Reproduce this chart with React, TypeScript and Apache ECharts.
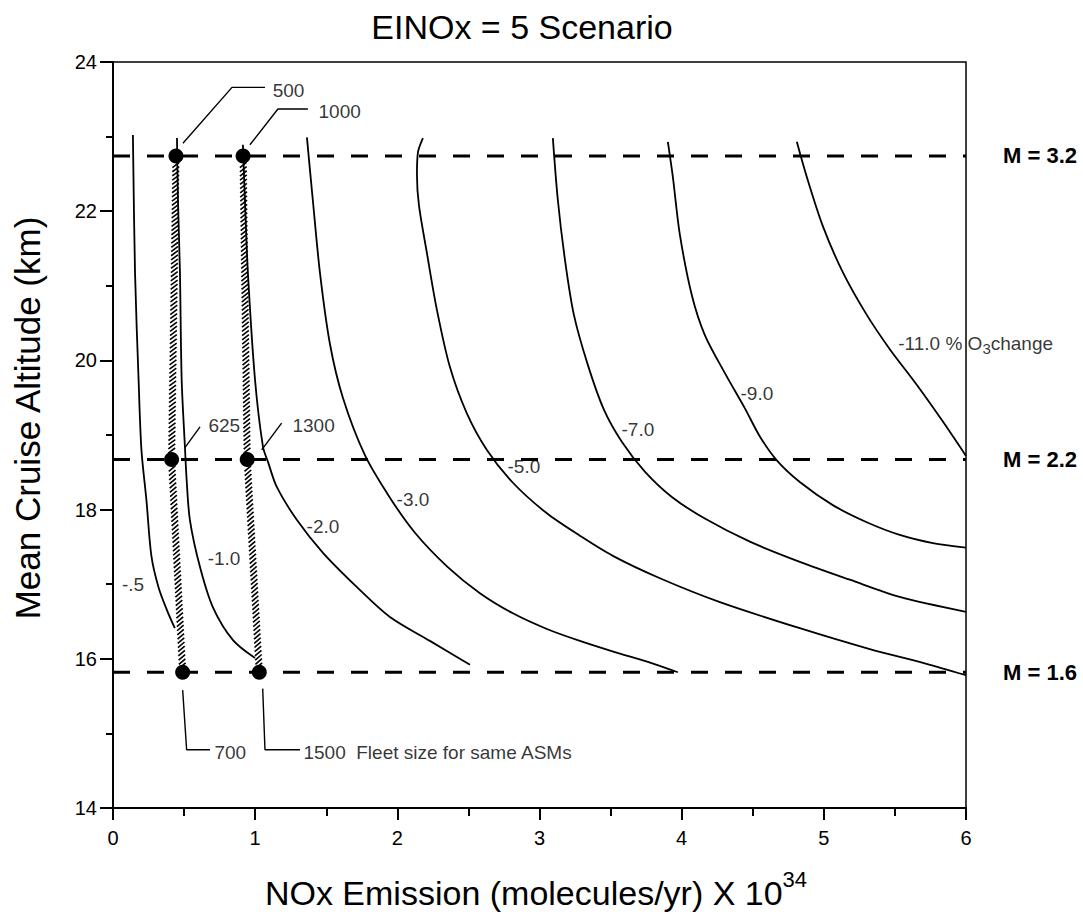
import React, { useEffect, useRef } from "react";
import * as echarts from "echarts";

const FONT = "'Liberation Sans', Arial, Helvetica, sans-serif";

// Axis ranges
const xRange = [0, 6];
const yRange = [14, 24];

// Ozone-change contours (% O3 change), [NOx emission, altitude]
const contourM05 = [[0.14, 23.02], [0.155, 21.17], [0.18, 19.74], [0.2, 18.8], [0.235, 18.13], [0.27, 17.38], [0.32, 16.96], [0.38, 16.65], [0.435, 16.41]];
const contourM10 = [[0.45, 22.98], [0.457, 22.15], [0.471, 21.17], [0.483, 19.74], [0.506, 18.84], [0.518, 18.4], [0.541, 17.86], [0.612, 17.23], [0.703, 16.69], [0.844, 16.25], [0.999, 16.01]];
const contourM20 = [[0.914, 22.89], [0.928, 22.15], [0.949, 21.17], [0.999, 19.74], [1.055, 18.84], [1.09, 18.64], [1.153, 18.3], [1.294, 17.86], [1.477, 17.42], [1.716, 16.96], [1.948, 16.56], [2.229, 16.24], [2.511, 15.92]];
const contourM30 = [[1.364, 22.99], [1.406, 22.14], [1.456, 21.17], [1.526, 20.22], [1.617, 19.5], [1.772, 18.73], [1.948, 18.16], [2.124, 17.69], [2.349, 17.24], [2.581, 16.88], [2.813, 16.61], [3.052, 16.4], [3.284, 16.24], [3.53, 16.09], [3.762, 15.96], [3.973, 15.82]];
const contourM50 = [[2.18, 22.98], [2.145, 22.79], [2.138, 22.49], [2.152, 22.08], [2.208, 21.44], [2.278, 20.68], [2.37, 19.91], [2.489, 19.29], [2.63, 18.8], [2.813, 18.36], [3.052, 17.95], [3.284, 17.65], [3.516, 17.38], [3.847, 17.08], [4.269, 16.76], [4.831, 16.41], [5.323, 16.13], [5.71, 15.94], [6.0, 15.78]];
const contourM70 = [[3.094, 22.98], [3.129, 22.15], [3.179, 21.35], [3.242, 20.61], [3.34, 19.94], [3.453, 19.34], [3.579, 18.91], [3.741, 18.51], [3.931, 18.17], [4.163, 17.88], [4.48, 17.57], [4.831, 17.3], [5.183, 17.06], [5.534, 16.83], [6.0, 16.63]];
const contourM90 = [[3.903, 22.93], [3.938, 22.46], [3.987, 21.69], [4.072, 20.87], [4.163, 20.34], [4.304, 19.83], [4.444, 19.36], [4.55, 18.98], [4.669, 18.66], [4.831, 18.37], [5.063, 18.06], [5.302, 17.83], [5.534, 17.66], [5.767, 17.55], [6.0, 17.49]];
const contourM110 = [[4.81, 22.93], [4.88, 22.46], [4.993, 21.8], [5.134, 21.18], [5.302, 20.61], [5.464, 20.15], [5.647, 19.69], [5.83, 19.2], [6.0, 18.72]];
const contours = [contourM05, contourM10, contourM20, contourM30, contourM50, contourM70, contourM90, contourM110];

// Contour labels and their positions
const contourLabelText = ["-.5", "-1.0", "-2.0", "-3.0", "-5.0", "-7.0", "-9.0"];
const contourLabelPos = [[0.141, 16.99], [0.781, 17.35], [1.477, 17.77], [2.11, 18.13], [2.89, 18.58], [3.692, 19.08], [4.529, 19.56]];
const o3LabelPos = [5.52, 20.23];

// Mach-number cruise altitudes
const machAltitudes = [22.74, 18.67, 15.82];
const machLabels = ["M = 3.2", "M = 2.2", "M = 1.6"];

// Fleet sizes for the same ASMs at each Mach altitude
const fleetSmallNOx = [0.443, 0.412, 0.49]; // 500, 625, 700
const fleetLargeNOx = [0.915, 0.944, 1.029]; // 1000, 1300, 1500

// Leader lines for the fleet-size labels
const leaders = [
  [[0.492, 22.91], [0.837, 23.66], [1.069, 23.66]],
  [[0.963, 22.89], [1.16, 23.37], [1.371, 23.37]],
  [[0.506, 18.83], [0.612, 19.11]],
  [[1.046, 18.8], [1.186, 19.16]],
  [[0.49, 15.58], [0.518, 14.78], [0.682, 14.78]],
  [[1.053, 15.6], [1.069, 14.78], [1.315, 14.78]],
];
const fleetLabelPos = [[1.12, 23.62], [1.442, 23.33], [0.668, 19.13], [1.259, 19.13], [0.71, 14.75], [1.336, 14.75]];
const fleetLabelText = ["500", "1000", "625", "1300", "700", "1500  Fleet size for same ASMs"];

export default function App() {
  const ref = useRef<HTMLDivElement>(null);
  useEffect(() => {
    if (!ref.current) return;
    const chart = echarts.init(ref.current, null, { renderer: "svg" });

    const bandSegments: number[][] = [];
    [fleetSmallNOx, fleetLargeNOx].forEach((nox) => {
      for (let i = 0; i < nox.length - 1; i++) {
        bandSegments.push([nox[i], machAltitudes[i], nox[i + 1], machAltitudes[i + 1]]);
      }
    });

    const dots: number[][] = [];
    [fleetSmallNOx, fleetLargeNOx].forEach((nox) => nox.forEach((x, i) => dots.push([x, machAltitudes[i]])));

    const series: any[] = [];

    machAltitudes.forEach((y, i) => {
      series.push({
        type: "line",
        data: [[xRange[0], y], [xRange[1], y]],
        showSymbol: false,
        symbol: "none",
        lineStyle: { color: "#000", width: 3, type: [17, 17], dashOffset: 0 },
        endLabel: {
          show: true,
          formatter: machLabels[i],
          distance: 37,
          color: "#000",
          fontSize: 22,
          fontWeight: "bold",
          fontFamily: FONT,
        },
        z: 2,
      });
    });

    contours.forEach((c) => {
      series.push({
        type: "line",
        data: c,
        smooth: 0.3,
        showSymbol: false,
        symbol: "none",
        lineStyle: { color: "#000", width: 1.8 },
        z: 3,
      });
    });

    leaders.forEach((l) => {
      series.push({
        type: "line",
        data: l,
        showSymbol: false,
        symbol: "none",
        lineStyle: { color: "#000", width: 1.4 },
        z: 3,
      });
    });

    series.push({
      type: "custom",
      data: bandSegments,
      encode: { x: [0, 2], y: [1, 3] },
      z: 4,
      renderItem: (params: any, api: any) => {
        const p0 = api.coord([api.value(0), api.value(1)]);
        const p1 = api.coord([api.value(2), api.value(3)]);
        const dx = p1[0] - p0[0];
        const dy = p1[1] - p0[1];
        const L = Math.sqrt(dx * dx + dy * dy);
        const d = [dx / L, dy / L];
        const n = [-d[1], d[0]];
        const w = 3.4;
        const h = 2.6;
        const step = 4.2;
        const children: any[] = [];
        for (let t = 9; t <= L - 5; t += step) {
          const c = [p0[0] + d[0] * t, p0[1] + d[1] * t];
          children.push({
            type: "line",
            shape: {
              x1: c[0] + n[0] * w + d[0] * h,
              y1: c[1] + n[1] * w + d[1] * h,
              x2: c[0] - n[0] * w - d[0] * h,
              y2: c[1] - n[1] * w - d[1] * h,
            },
            style: { stroke: "#000", lineWidth: 1.6 },
          });
        }
        return { type: "group", children };
      },
    });

    series.push({
      type: "scatter",
      data: dots,
      symbolSize: 15,
      itemStyle: { color: "#000", opacity: 1 },
      z: 5,
    });

    const textBase = { color: "#000", fontSize: 19, fontFamily: FONT };
    const labelData: any[] = [];
    contourLabelText.forEach((t, i) => {
      labelData.push({
        value: contourLabelPos[i],
        label: { show: true, position: "inside", formatter: t, ...textBase },
      });
    });
    fleetLabelText.forEach((t, i) => {
      labelData.push({
        value: fleetLabelPos[i],
        label: { show: true, position: "right", distance: 0, formatter: t, ...textBase },
      });
    });
    labelData.push({
      value: o3LabelPos,
      label: {
        show: true,
        position: "right",
        distance: 0,
        formatter: "{a|-11.0 % O}{s|3}{a|change}",
        rich: {
          a: { ...textBase, lineHeight: 26, verticalAlign: "middle" },
          s: { ...textBase, fontSize: 15, lineHeight: 15, verticalAlign: "bottom" },
        },
      },
    });
    series.push({
      type: "scatter",
      data: labelData,
      symbolSize: 1,
      itemStyle: { color: "rgba(0,0,0,0)" },
      silent: true,
      z: 6,
    });

    chart.setOption({
      animation: false,
      backgroundColor: "#fff",
      grid: { left: 113, right: 117, top: 62, bottom: 108, show: true, borderColor: "#000", borderWidth: 1.5 },
      xAxis: {
        type: "value",
        min: xRange[0],
        max: xRange[1],
        interval: 1,
        axisLine: { onZero: false, lineStyle: { color: "#000", width: 2 } },
        axisTick: { show: true, length: 12, lineStyle: { color: "#000", width: 2 } },
        minorTick: { show: true, splitNumber: 2, length: 8, lineStyle: { color: "#000", width: 2 } },
        axisLabel: { color: "#000", fontSize: 20, margin: 20, fontFamily: FONT },
        splitLine: { show: false },
      },
      yAxis: {
        type: "value",
        min: yRange[0],
        max: yRange[1],
        interval: 2,
        axisLine: { onZero: false, lineStyle: { color: "#000", width: 2 } },
        axisTick: { show: true, length: 13, lineStyle: { color: "#000", width: 2 } },
        minorTick: { show: true, splitNumber: 2, length: 7, lineStyle: { color: "#000", width: 2 } },
        axisLabel: { color: "#000", fontSize: 20, margin: 16, fontFamily: FONT },
        splitLine: { show: false },
      },
      graphic: [
        {
          type: "text",
          x: 522,
          y: 27,
          style: { text: "EINOx = 5 Scenario", fontSize: 34, fontFamily: FONT, fill: "#000", align: "center", verticalAlign: "middle" },
        },
        {
          type: "text",
          x: 27,
          y: 418,
          rotation: Math.PI / 2,
          style: { text: "Mean Cruise Altitude (km)", fontSize: 35, fontFamily: FONT, fill: "#000", align: "center", verticalAlign: "middle" },
        },
        {
          type: "text",
          x: 536,
          y: 893,
          style: {
            text: "{m|NOx Emission (molecules/yr) X 10}{s|34}",
            align: "center",
            verticalAlign: "middle",
            rich: {
              m: { fontSize: 34, fontFamily: FONT, fill: "#000", lineHeight: 50, verticalAlign: "middle" },
              s: { fontSize: 22, fontFamily: FONT, fill: "#000", lineHeight: 22, verticalAlign: "top" },
            },
          },
        },
      ],
      series,
    });

    return () => chart.dispose();
  }, []);

  return <div ref={ref} style={{ position: "fixed", left: 0, top: 0, width: 1083, height: 916, background: "#fff" }} />;
}
